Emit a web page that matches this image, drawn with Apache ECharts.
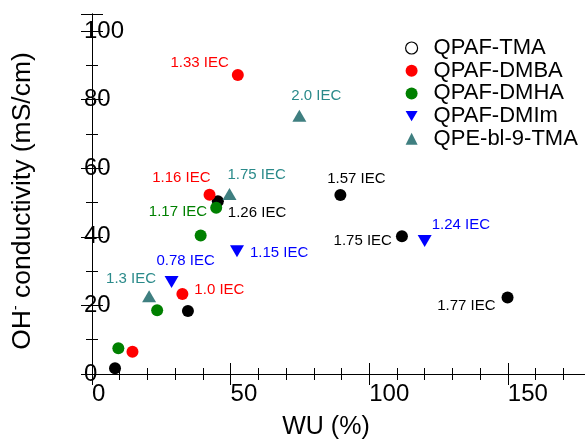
<!DOCTYPE html>
<html>
<head>
<meta charset="utf-8">
<script src="https://cdn.jsdelivr.net/npm/echarts@6/dist/echarts.min.js"></script>
<style>
html,body{margin:0;padding:0;background:#fff;}
#c{width:585px;height:439px;}
</style>
</head>
<body>
<div id="c"></div>
<script>
// ---- data ----
const seriesNames = ['QPAF-TMA', 'QPAF-DMBA', 'QPAF-DMHA', 'QPAF-DMIm', 'QPE-bl-9-TMA'];

const tmaWU   = [8.3, 34.6, 45.4, 89.6, 111.8, 149.9];
const tmaCond = [1.7, 18.4, 50.4, 52.2, 40.2, 22.3];
const tmaIEC  = ['', '', '1.26 IEC', '1.57 IEC', '1.75 IEC', '1.77 IEC'];

const dmbaWU   = [14.6, 32.6, 42.4, 52.6];
const dmbaCond = [6.5, 23.3, 52.3, 87.2];
const dmbaIEC  = ['', '1.0 IEC', '1.16 IEC', '1.33 IEC'];

const dmhaWU   = [9.5, 23.5, 39.2, 44.8];
const dmhaCond = [7.5, 18.6, 40.4, 48.5];
const dmhaIEC  = ['', '', '', '1.17 IEC'];

const dmimWU   = [28.7, 52.3, 120.0];
const dmimCond = [26.8, 35.8, 38.8];
const dmimIEC  = ['0.78 IEC', '1.15 IEC', '1.24 IEC'];

const blWU   = [20.6, 49.6, 74.8];
const blCond = [22.7, 52.5, 75.3];
const blIEC  = ['1.3 IEC', '1.75 IEC', '2.0 IEC'];

const xTicks = { min: 0, max: 180, interval: 50 };
const yTicks = { min: 0, max: 105, interval: 20 };

// ---- label placement (style, not data): [align, dx, dy] relative to marker centre ----
const tmaLabelPos  = [null, null, ['left', 10, 12], ['center', 16, -16], ['right', -10, 5], ['right', -12, 8]];
const dmbaLabelPos = [null, ['left', 12, -4], ['right', 1, -17], ['right', -9, -12]];
const dmhaLabelPos = [null, null, null, ['right', -9, 4]];
const dmimLabelPos = [['center', 14, -21], ['left', 13, 2], ['left', 7, -16]];
const blLabelPos   = [['center', -18, -17], ['left', -2, -19], ['center', 17, -20]];

const FONT = 'Liberation Sans, Arial, sans-serif';
const colors = {
  tma: '#000000', dmba: '#ff0000', dmha: '#008000', dmim: '#0000ff', bl: '#3f7f80'
};
const labelColors = {
  tma: '#000000', dmba: '#ff0000', dmha: '#008000', dmim: '#0000ff', bl: '#2a8a8a'
};

function buildData(xs, ys, texts, placement, lblColor) {
  return xs.map(function (x, i) {
    const item = { value: [x, ys[i]] };
    if (texts[i] && placement[i]) {
      const p = placement[i];
      item.label = {
        show: true,
        formatter: texts[i],
        position: 'inside',
        align: p[0],
        verticalAlign: 'middle',
        offset: [p[1], p[2]],
        color: lblColor,
        fontSize: 15,
        fontFamily: FONT,
        textBorderWidth: 0
      };
    }
    return item;
  });
}

const chart = echarts.init(document.getElementById('c'), null, { renderer: 'canvas' });

const axisLineStyle = { lineStyle: { color: '#000', width: 1 } };

const option = {
  animation: false,
  backgroundColor: '#fff',
  textStyle: { fontFamily: FONT },
  grid: { left: 92, top: 14, right: -6, bottom: 65, containLabel: false, outerBoundsMode: 'none' },
  legend: {
    orient: 'vertical',
    left: 400,
    top: 32,
    padding: 5,
    itemWidth: 12,
    itemHeight: 12,
    itemGap: 0.7,
    textStyle: { fontSize: 22, lineHeight: 22, color: '#000', fontFamily: FONT, padding: [0, 0, 0, 11] },
    data: [
      { name: seriesNames[0], icon: 'circle', itemStyle: { color: '#fff', borderColor: '#000', borderWidth: 1.2 } },
      { name: seriesNames[1], icon: 'circle' },
      { name: seriesNames[2], icon: 'circle' },
      { name: seriesNames[3], icon: 'path://M0,0L2,0L1,1.7Z' },
      { name: seriesNames[4], icon: 'triangle' }
    ]
  },
  xAxis: [
    {
      type: 'value', position: 'bottom',
      min: xTicks.min, max: xTicks.max, interval: xTicks.interval,
      axisLine: axisLineStyle,
      axisTick: { show: true, inside: true, length: 11, lineStyle: { color: '#000' } },
      minorTick: { show: true, splitNumber: 5, length: 6, lineStyle: { color: '#000' } },
      splitLine: { show: false },
      axisLabel: { align: 'left', margin: 8, fontSize: 24, color: '#000', fontFamily: FONT, showMaxLabel: false },
      name: 'WU (%)', nameLocation: 'middle', nameGap: 41,
      nameTextStyle: { fontSize: 25, color: '#000', fontFamily: FONT, padding: [0, 31, 0, 0] }
    },
    {
      type: 'value', position: 'top',
      min: xTicks.min, max: xTicks.max, interval: xTicks.interval,
      axisLine: axisLineStyle,
      axisTick: { show: true, inside: true, length: 11, lineStyle: { color: '#000' } },
      minorTick: { show: true, splitNumber: 5, length: 6, lineStyle: { color: '#000' } },
      splitLine: { show: false },
      axisLabel: { show: false }
    }
  ],
  yAxis: [
    {
      type: 'value', position: 'left',
      min: yTicks.min, max: yTicks.max, interval: yTicks.interval,
      axisLine: axisLineStyle,
      axisTick: { show: true, inside: true, length: 11, lineStyle: { color: '#000' } },
      minorTick: { show: true, splitNumber: 2, length: 6, lineStyle: { color: '#000' } },
      splitLine: { show: false },
      axisLabel: { align: 'left', margin: 8, fontSize: 24, color: '#000', fontFamily: FONT },
      name: '{a|OH}{s|-}{a| conductivity (mS/cm)}',
      nameLocation: 'middle', nameGap: 56, nameRotate: 90,
      nameTextStyle: {
        color: '#000', fontFamily: FONT, padding: [0, 14, 0, 0],
        rich: {
          a: { fontSize: 26.5, color: '#000', fontFamily: FONT },
          s: { fontSize: 14, color: '#000', fontFamily: FONT, verticalAlign: 'top' }
        }
      }
    },
    {
      type: 'value', position: 'right',
      min: yTicks.min, max: yTicks.max, interval: yTicks.interval,
      axisLine: axisLineStyle,
      axisTick: { show: true, inside: true, length: 11, lineStyle: { color: '#000' } },
      minorTick: { show: true, splitNumber: 2, length: 6, lineStyle: { color: '#000' } },
      splitLine: { show: false },
      axisLabel: { show: false }
    }
  ],
  series: [
    {
      name: seriesNames[0], type: 'scatter', symbol: 'circle', symbolSize: 12,
      itemStyle: { color: colors.tma, opacity: 1 },
      data: buildData(tmaWU, tmaCond, tmaIEC, tmaLabelPos, labelColors.tma)
    },
    {
      name: seriesNames[1], type: 'scatter', symbol: 'circle', symbolSize: 12,
      itemStyle: { color: colors.dmba, opacity: 1 },
      data: buildData(dmbaWU, dmbaCond, dmbaIEC, dmbaLabelPos, labelColors.dmba)
    },
    {
      name: seriesNames[2], type: 'scatter', symbol: 'circle', symbolSize: 12,
      itemStyle: { color: colors.dmha, opacity: 1 },
      data: buildData(dmhaWU, dmhaCond, dmhaIEC, dmhaLabelPos, labelColors.dmha)
    },
    {
      name: seriesNames[3], type: 'scatter', symbol: 'triangle', symbolRotate: 180, symbolSize: [14, 12],
      itemStyle: { color: colors.dmim, opacity: 1 },
      data: buildData(dmimWU, dmimCond, dmimIEC, dmimLabelPos, labelColors.dmim)
    },
    {
      name: seriesNames[4], type: 'scatter', symbol: 'triangle', symbolSize: [14, 12],
      itemStyle: { color: colors.bl, opacity: 1 },
      data: buildData(blWU, blCond, blIEC, blLabelPos, labelColors.bl)
    }
  ]
};

chart.setOption(option);
</script>
</body>
</html>
